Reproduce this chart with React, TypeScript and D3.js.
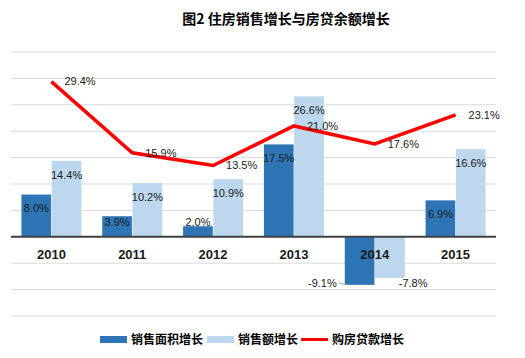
import React from "react";
import * as d3 from "d3";

const years = ["2010", "2011", "2012", "2013", "2014", "2015"];
const areaGrowth = [8.0, 3.9, 2.0, 17.5, -9.1, 6.9];
const salesGrowth = [14.4, 10.2, 10.9, 26.6, -7.8, 16.6];
const loanGrowth = [29.4, 15.9, 13.5, 21.0, 17.6, 23.1];
const yTicks = [-15, -10, -5, 0, 5, 10, 15, 20, 25, 30, 35];
const seriesNames = ["销售面积增长", "销售额增长", "购房贷款增长"];

const W = 525, H = 358;
const DARK = "#2e75b6", LIGHT = "#bdd7ee", RED = "#ff0000";
const FONT = "'Liberation Sans', Arial, sans-serif";
const CJK = "'Noto Sans CJK SC', sans-serif";

export default function App() {
  const x = d3.scaleBand<string>().domain(years).range([11, 496]).padding(0);
  const y = d3.scaleLinear().domain([-15, 35]).range([316, 52]);
  const inner = d3.scaleBand<string>().domain(["a", "b"]).range([-30, 30]).paddingInner(0.02);
  const cx = (yr: string) => (x(yr) as number) + x.bandwidth() / 2;
  const zero = y(0);
  const line = d3.line<number>().x((_, i) => cx(years[i])).y((d) => y(d));
  const bw = inner.bandwidth();

  const barLabelY = (v: number) => Math.min(y(v) + 14, zero - 15);

  return (
    <svg width={W} height={H} style={{ position: "absolute", left: 0, top: 0, background: "#fff" }}>
      <text x={286} y={24} textAnchor="middle" fontFamily={CJK} fontWeight="bold" fontSize={14} fill="#000">图2 住房销售增长与房贷余额增长</text>
      {yTicks.filter((t) => t !== 0).map((t) => (
        <line key={t} x1={11} x2={496} y1={y(t)} y2={y(t)} stroke="#d9d9d9" strokeWidth={1} />
      ))}
      {years.map((yr, i) => {
        const c = cx(yr);
        const a = areaGrowth[i], s = salesGrowth[i];
        const ax = c + (inner("a") as number), sx = c + (inner("b") as number);
        return (
          <g key={yr}>
            <rect x={ax} width={bw} y={Math.min(y(a), zero)} height={Math.abs(y(a) - zero)} fill={DARK} />
            <rect x={sx} width={bw} y={Math.min(y(s), zero)} height={Math.abs(y(s) - zero)} fill={LIGHT} />
          </g>
        );
      })}
      <line x1={11} x2={496} y1={zero} y2={zero} stroke="#404040" strokeWidth={2} />
      {years.map((yr) => (
        <text key={yr} x={cx(yr)} y={zero + 22} textAnchor="middle" fontFamily={FONT} fontWeight="bold" fontSize={13} fill="#1a1a1a">{yr}</text>
      ))}
      {years.map((yr, i) => {
        const c = cx(yr);
        const a = areaGrowth[i], s = salesGrowth[i];
        const ax = c + (inner("a") as number), sx = c + (inner("b") as number);
        if (a < 0) {
          const by = y(a), sy = y(s);
          return (
            <g key={yr} fontFamily={FONT} fontSize={11} fill="#1a1a1a">
              <line x1={ax - 6} y1={by - 2} x2={ax + 2} y2={by} stroke="#a6a6a6" strokeWidth={1} />
              <text x={ax - 8} y={by - 2} dy="0.35em" textAnchor="end">{a.toFixed(1)}%</text>
              <text x={sx + bw - 6} y={sy + 5} dy="0.35em" textAnchor="start">{s.toFixed(1)}%</text>
            </g>
          );
        }
        return (
          <g key={yr} fontFamily={FONT} fontSize={11} fill="#1a1a1a" textAnchor="middle">
            <text x={ax + bw / 2} y={barLabelY(a)} dy="0.35em">{a.toFixed(1)}%</text>
            <text x={sx + bw / 2} y={barLabelY(s)} dy="0.35em">{s.toFixed(1)}%</text>
          </g>
        );
      })}
      <path d={line(loanGrowth) as string} fill="none" stroke={RED} strokeWidth={3.5} strokeLinejoin="miter" />
      {years.map((yr, i) => (
        <text key={yr} x={cx(yr) + 13} y={y(loanGrowth[i])} dy="0.35em" fontFamily={FONT} fontSize={11} fill="#1a1a1a">{loanGrowth[i].toFixed(1)}%</text>
      ))}
      <g fontFamily={CJK} fontWeight="bold" fontSize={12} fill="#000">
        <rect x={100} y={336} width={27} height={7} fill={DARK} />
        <text x={131} y={340} dy="0.35em">{seriesNames[0]}</text>
        <rect x={207} y={336} width={27} height={7} fill={LIGHT} />
        <text x={238} y={340} dy="0.35em">{seriesNames[1]}</text>
        <line x1={301} x2={328} y1={339.5} y2={339.5} stroke={RED} strokeWidth={3} />
        <text x={332} y={340} dy="0.35em">{seriesNames[2]}</text>
      </g>
    </svg>
  );
}
